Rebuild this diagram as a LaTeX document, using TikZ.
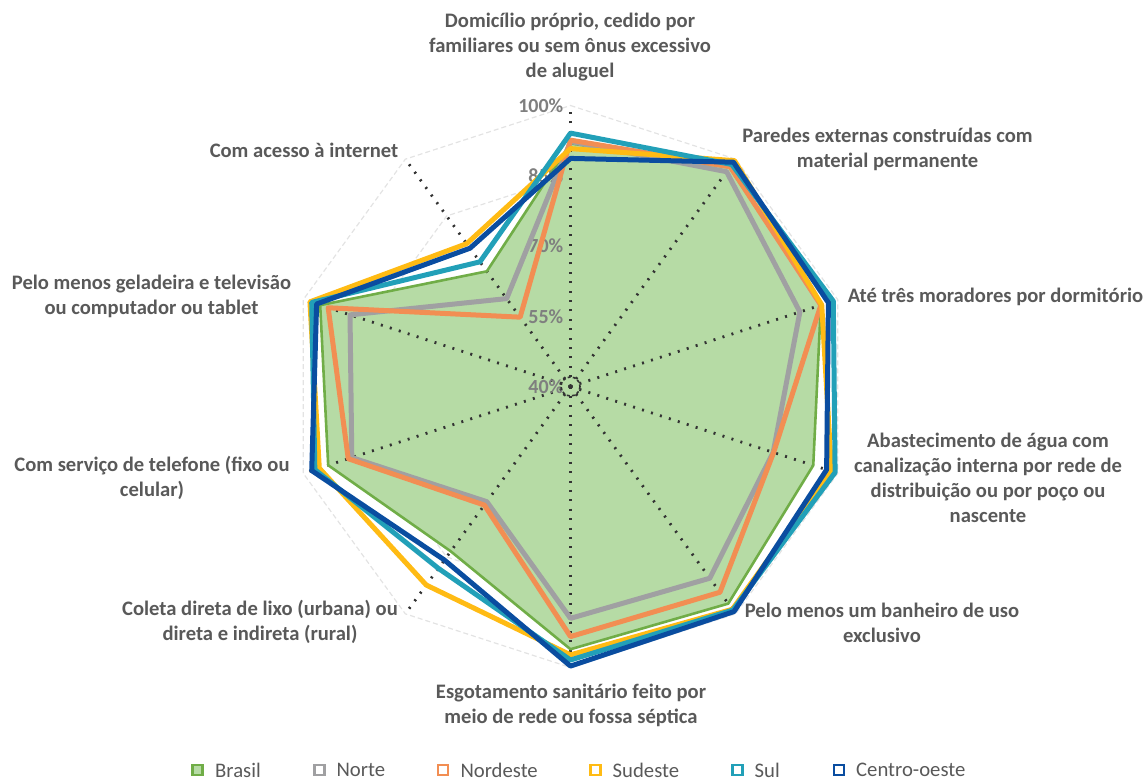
\documentclass[tikz,border=0pt]{standalone}
\usepackage{fontspec}
\setmainfont{Carlito}
\definecolor{txt}{HTML}{595959}
\definecolor{pctc}{HTML}{7F7F7F}
\definecolor{gridc}{HTML}{E3E3E3}
\definecolor{axc}{HTML}{333333}
\definecolor{brline}{HTML}{70AD47}
\definecolor{brfill}{HTML}{B6DBA5}
\definecolor{noc}{HTML}{A0A0A2}
\definecolor{nec}{HTML}{F28E53}
\definecolor{sec}{HTML}{FFBB14}
\definecolor{suc}{HTML}{22A0B8}
\definecolor{coc}{HTML}{0A4DA0}
\begin{document}
\begin{tikzpicture}[x=1pt,y=-1pt,
  lab/.style={font=\fontsize{20.6}{25}\selectfont\bfseries, text=txt, align=center, inner sep=0},
  pct/.style={font=\fontsize{20}{22}\selectfont\bfseries, text=pctc, anchor=east, inner sep=0},
  gridln/.style={draw=gridc, line width=1.2pt, dash pattern=on 5pt off 3pt},
  axisln/.style={draw=axc, line width=2.8pt, dash pattern=on 2pt off 7.4pt},
  ser/.style={line width=5pt, line join=round},
  legtxt/.style={font=\fontsize{20.7}{24}\selectfont, text=txt, anchor=west, inner sep=0},
  legbox/.style={line width=2.2pt, minimum size=10pt, inner sep=0, fill=white}
]
\useasboundingbox (0,0) rectangle (1147,781);
\begin{scope}[shift={(570.5,386.5)}]
  % gridlines
  \foreach \g in {55,70,85,100}
    \draw[gridln] (-90:{(\g-40)*4.6833}) \foreach \k in {1,...,9}{ -- ({36*\k-90}:{(\g-40)*4.6833}) } -- cycle;
  % data points
  \foreach \v [count=\i from 0] in {91.9,97.8,96.2,94.5,97.3,96.1,83.5,94.4,96.2,70.4}
    \coordinate (br\i) at ({36*\i-90}:{(\v-40)*4.6833});
  \foreach \v [count=\i from 0] in {92.3,96.7,91.5,85.5,90.6,89.5,70.4,89.1,89.5,63.2}
    \coordinate (no\i) at ({36*\i-90}:{(\v-40)*4.6833});
  \foreach \v [count=\i from 0] in {92.6,98.0,96.2,85.6,94.3,93.4,71.3,89.9,94.4,58.3}
    \coordinate (ne\i) at ({36*\i-90}:{(\v-40)*4.6833});
  \foreach \v [count=\i from 0] in {90.8,99.6,96.4,98.6,98.8,97.3,92.4,96.4,98.5,77.7}
    \coordinate (se\i) at ({36*\i-90}:{(\v-40)*4.6833});
  \foreach \v [count=\i from 0] in {94.1,98.6,99.0,99.4,99.0,98.4,88.0,97.4,98.1,72.9}
    \coordinate (su\i) at ({36*\i-90}:{(\v-40)*4.6833});
  \foreach \v [count=\i from 0] in {88.7,99.2,97.9,97.5,99.4,99.7,85.8,98.1,97.0,76.5}
    \coordinate (co\i) at ({36*\i-90}:{(\v-40)*4.6833});
  % Brasil fill
  \fill[brfill] (br0) \foreach \k in {1,...,9}{ -- (br\k) } -- cycle;
  % axes
  \coordinate (c) at (0,0);
  \foreach \k in {0,...,9}
    \draw[axisln] (c) -- ({36*\k-90}:281);
  % percent labels
  \foreach \g in {40,55,70,85,100}
    \node[pct] (p\g) at (-7,{-(\g-40)*4.6833}) {\g\%};
  \draw[axc, line width=1.6pt, dash pattern=on 3pt off 2.2pt] (c) circle (9.5);
  % series
  \draw[brline, line width=2.6pt, line join=round] (br0) \foreach \k in {1,...,9}{ -- (br\k) } -- cycle;
  \draw[ser, noc] (no0) \foreach \k in {1,...,9}{ -- (no\k) } -- cycle;
  \draw[ser, nec] (ne0) \foreach \k in {1,...,9}{ -- (ne\k) } -- cycle;
  \draw[ser, sec] (se0) \foreach \k in {1,...,9}{ -- (se\k) } -- cycle;
  \draw[ser, suc] (su0) \foreach \k in {1,...,9}{ -- (su\k) } -- cycle;
  \draw[ser, coc] (co0) \foreach \k in {1,...,9}{ -- (co\k) } -- cycle;
\end{scope}
% category labels
\node[lab] (l0) at (570,47) {Domicílio próprio, cedido por\\familiares ou sem ônus excessivo\\de aluguel};
\node[lab] (l1) at (887.5,149) {Paredes externas construídas com\\material permanente};
\node[lab] (l2) at (995.5,297) {Até três moradores por dormitório};
\node[lab] (l3) at (988,478) {Abastecimento de água com\\canalização interna por rede de\\distribuição ou por poço ou\\nascente};
\node[lab] (l4) at (882,622.5) {Pelo menos um banheiro de uso\\exclusivo};
\node[lab] (l5) at (571,705) {Esgotamento sanitário feito por\\meio de rede ou fossa séptica};
\node[lab] (l6) at (260,622) {Coleta direta de lixo (urbana) ou\\direta e indireta (rural)};
\node[lab] (l7) at (152,477.5) {Com serviço de telefone (fixo ou\\celular)};
\node[lab] (l8) at (151.5,296.5) {Pelo menos geladeira e televisão\\ou computador ou tablet};
\node[lab] (l9) at (304,150) {Com acesso à internet};
% legend
\node[legbox, draw=brline, fill=brfill] (kbr) at (197.5,770) {};
\node[legtxt] (tbr) at (215,770) {Brasil};
\node[legbox, draw=noc] (kno) at (319.4,770) {};
\node[legtxt] (tno) at (336.4,770) {Norte};
\node[legbox, draw=nec] (kne) at (443.2,770) {};
\node[legtxt] (tne) at (460.3,770) {Nordeste};
\node[legbox, draw=sec] (kse) at (595.5,770) {};
\node[legtxt] (tse) at (612.5,770) {Sudeste};
\node[legbox, draw=suc] (ksu) at (737.4,770) {};
\node[legtxt] (tsu) at (754.5,770) {Sul};
\node[legbox, draw=coc] (kco) at (839.2,770) {};
\node[legtxt] (tco) at (856,770) {Centro-oeste};
\end{tikzpicture}
\end{document}
